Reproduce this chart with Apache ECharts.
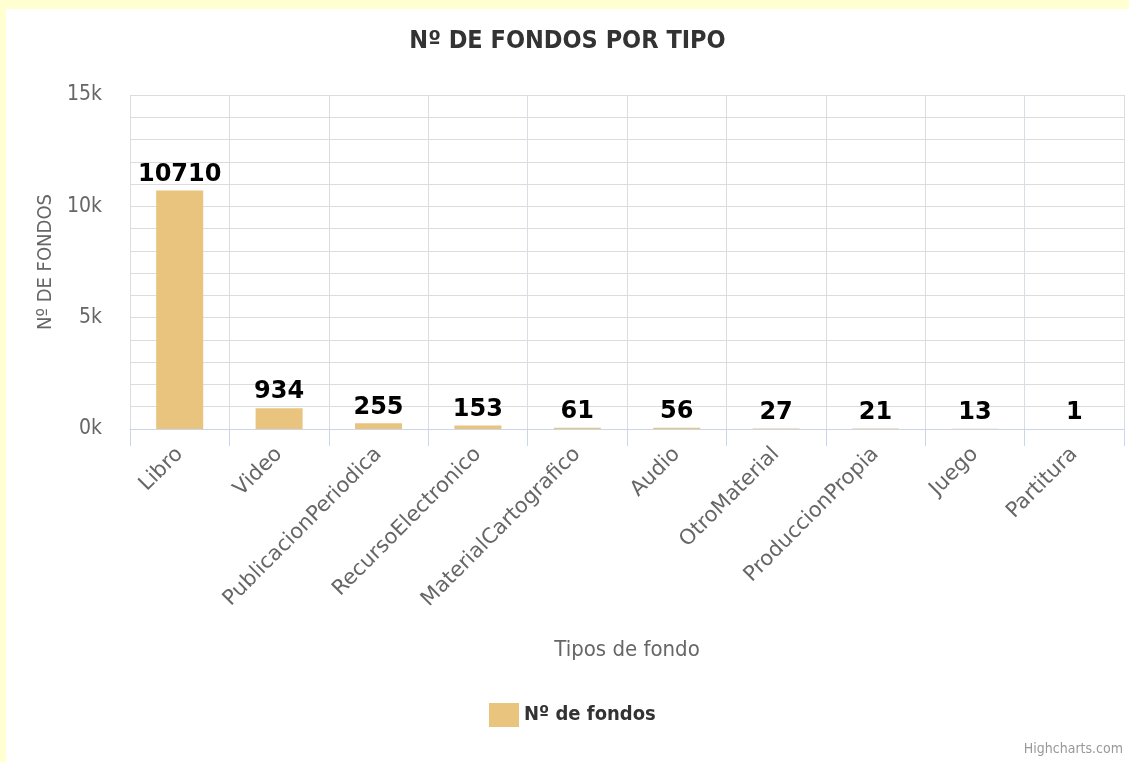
<!DOCTYPE html>
<html>
<head>
<meta charset="utf-8">
<script src="https://cdn.jsdelivr.net/npm/echarts@6/dist/echarts.min.js"></script>
<style>
  html, body { margin: 0; padding: 0; background: #ffffd2; }
  #chart { position: absolute; left: 6px; top: 9px; width: 1123px; height: 753px; background: #ffffff; }
</style>
</head>
<body>
<div id="chart"></div>
<script>
const categories = ["Libro", "Video", "PublicacionPeriodica", "RecursoElectronico", "MaterialCartografico",
  "Audio", "OtroMaterial", "ProduccionPropia", "Juego", "Partitura"];
const fondos = [10710, 934, 255, 153, 61, 56, 27, 21, 13, 1];
const yTicks = [0, 5000, 10000, 15000];

const narrow = "'Liberation Sans Narrow', 'DejaVu Sans Condensed', sans-serif";
const gridColor = "#dcdcdc";
const axisColor = "#ccd6eb";

const chart = echarts.init(document.getElementById("chart"));

chart.setOption({
  animation: false,
  title: {
    text: "Nº DE FONDOS POR TIPO",
    left: "center",
    top: 15,
    textStyle: { fontFamily: narrow, fontSize: 25, fontWeight: "bold", color: "#333333" }
  },
  legend: {
    left: 478,
    top: 689,
    icon: "rect",
    itemWidth: 30,
    itemHeight: 24,
    itemGap: 10,
    textStyle: { fontFamily: narrow, fontSize: 20, fontWeight: "bold", color: "#333333" }
  },
  graphic: [{
    type: "text",
    right: 6,
    top: 733,
    style: { text: "Highcharts.com", fontFamily: narrow, fontSize: 14, fill: "#999999" }
  }],
  grid: { left: 124, right: 5, top: 86, bottom: 333 },
  xAxis: {
    type: "category",
    data: categories,
    name: "Tipos de fondo",
    nameLocation: "middle",
    nameGap: 210,
    nameTextStyle: { fontFamily: narrow, fontSize: 22, color: "#666666" },
    axisLine: { lineStyle: { color: axisColor, width: 1 } },
    axisTick: { show: true, length: 17, lineStyle: { color: axisColor } },
    splitLine: { show: true, lineStyle: { color: "#d8dce3" } },
    axisLabel: { rotate: 45, margin: 22, fontFamily: "'DejaVu Sans', Verdana, sans-serif", fontSize: 21, color: "#666666" }
  },
  yAxis: {
    type: "value",
    min: yTicks[0],
    max: yTicks[yTicks.length - 1],
    interval: 5000,
    name: "Nº DE FONDOS",
    nameLocation: "middle",
    nameRotate: 90,
    nameGap: 74,
    nameTextStyle: { fontFamily: narrow, fontSize: 20, color: "#666666" },
    axisLine: { show: false },
    axisTick: { show: false },
    axisLabel: {
      margin: 28,
      fontFamily: narrow,
      fontSize: 21,
      color: "#666666",
      formatter: (v) => (v / 1000) + "k"
    },
    splitLine: { show: true, lineStyle: { color: gridColor } },
    minorTick: { show: false, splitNumber: 5 },
    minorSplitLine: { show: true, lineStyle: { color: gridColor } }
  },
  series: [{
    name: "Nº de fondos",
    type: "bar",
    data: fondos,
    barWidth: 47,
    itemStyle: { color: "#e8c47f" },
    label: {
      show: true,
      position: "top",
      distance: 4,
      fontFamily: "'DejaVu Sans', Verdana, sans-serif",
      fontWeight: "bold",
      fontSize: 24,
      color: "#000000"
    }
  }]
});
</script>
</body>
</html>
